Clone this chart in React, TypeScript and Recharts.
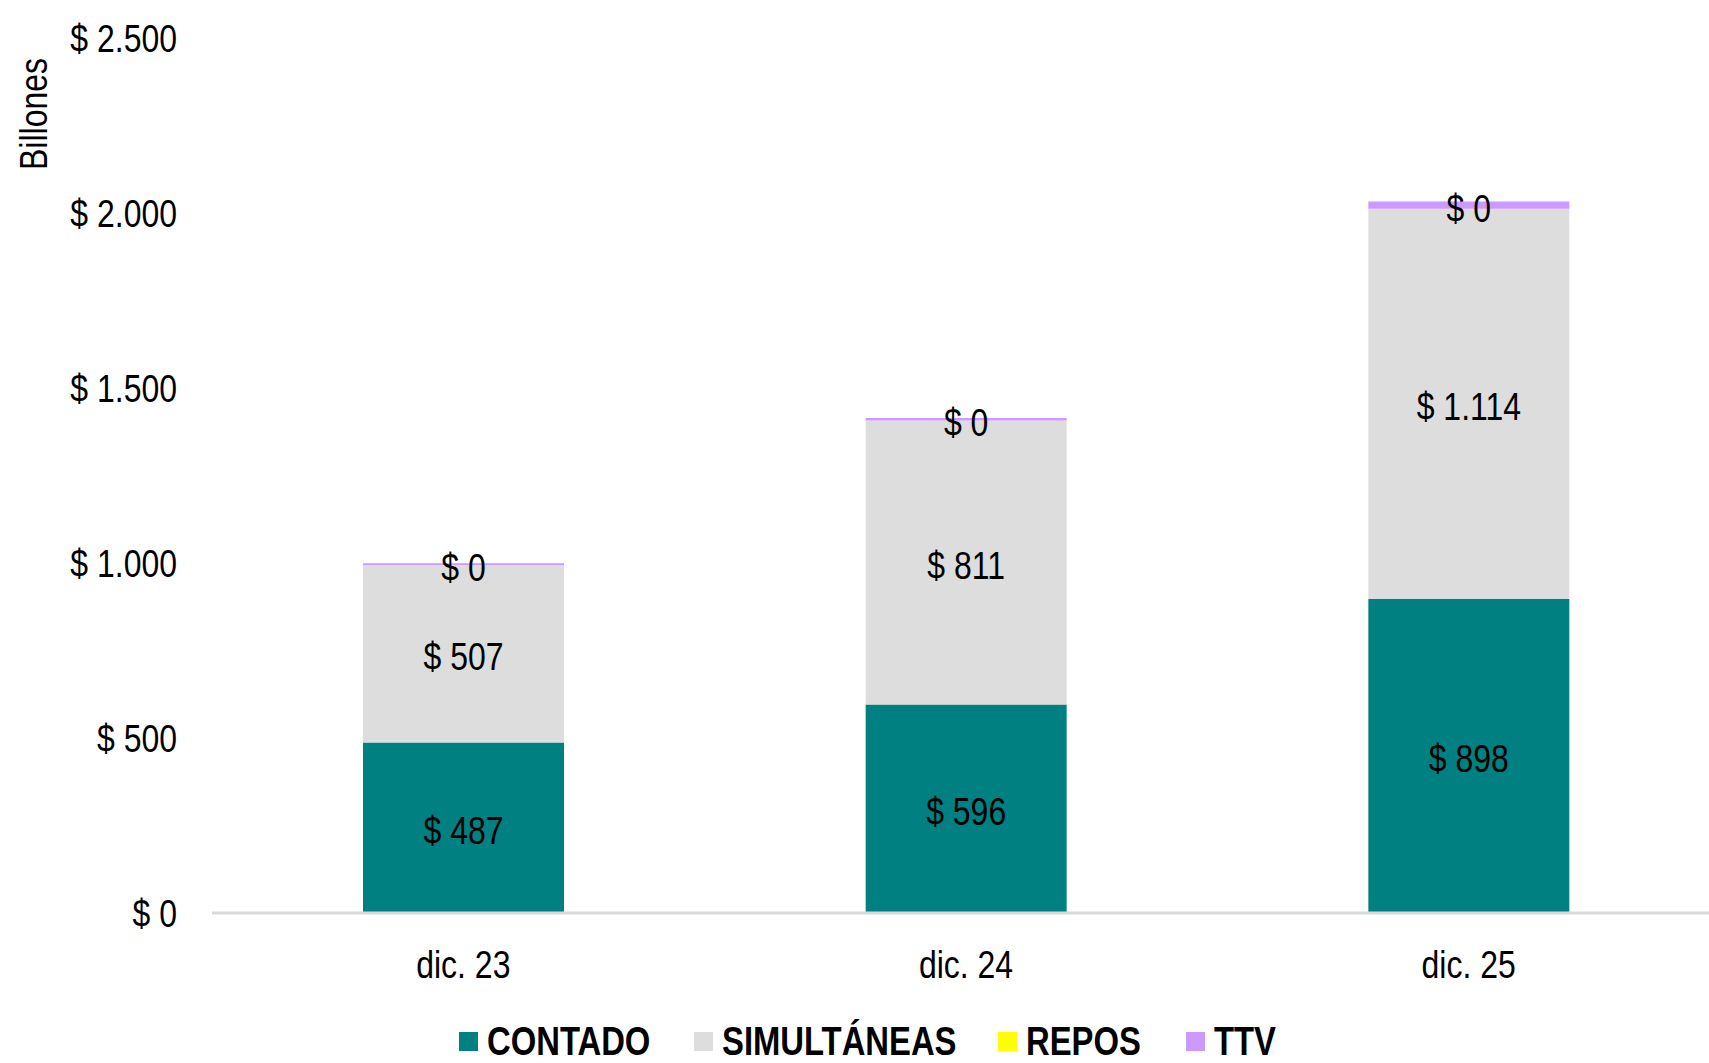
import { BarChart, Bar, XAxis, YAxis, LabelList, Label } from "recharts";

const categories = ["dic. 23", "dic. 24", "dic. 25"];
const contado = [487, 596, 898];
const simultaneas = [507, 811, 1114];
const repos = [0, 0, 0];
const ttv = [5, 7, 21];
const ttvLabels = [0, 0, 0];
const yTicks = [0, 500, 1000, 1500, 2000, 2500];

const legendItems = [
  { name: "CONTADO", color: "#008080" },
  { name: "SIMULTÁNEAS", color: "#DDDDDD" },
  { name: "REPOS", color: "#FFFF00" },
  { name: "TTV", color: "#CC99FF" },
];

// Arial Narrow is not installed, so Liberation Sans is squeezed horizontally
const FONT = "'Liberation Sans', Arial, sans-serif";
const SQUEEZE = 0.82;
const FS = 39;

const fmt = (v: number) => "$ " + String(v).replace(/\B(?=(\d{3})+(?!\d))/g, ".");

const data = categories.map((c, i) => ({
  name: c,
  contado: contado[i],
  simultaneas: simultaneas[i],
  repos: repos[i],
  ttv: ttv[i],
  ttvLabel: ttvLabels[i],
}));

function NarrowText({ x, y, anchor, dy, children }: any) {
  return (
    <text
      transform={`translate(${x},${y}) scale(${SQUEEZE},1)`}
      textAnchor={anchor}
      dy={dy}
      fontSize={FS}
      fontFamily={FONT}
      fill="#000"
    >
      {children}
    </text>
  );
}

const YTick = ({ x, y, payload }: any) => (
  <NarrowText x={x} y={y} anchor="end" dy="0.37em">
    {fmt(payload.value)}
  </NarrowText>
);

const XTick = ({ x, y, payload }: any) => (
  <NarrowText x={x} y={y} anchor="middle" dy="0.71em">
    {payload.value}
  </NarrowText>
);

const BarLabel = ({ x, y, width, height, value }: any) => (
  <NarrowText x={x + width / 2} y={y + height / 2} anchor="middle" dy="0.42em">
    {fmt(value)}
  </NarrowText>
);

const legendX = [459, 694, 998, 1186];

export default function App() {
  return (
    <div
      style={{
        position: "absolute",
        left: 0,
        top: 0,
        width: 1709,
        height: 1063,
        overflow: "hidden",
        background: "#fff",
        fontFamily: FONT,
      }}
    >
      <BarChart
        width={1720}
        height={1063}
        data={data}
        margin={{ top: 38, right: 0, left: 0, bottom: 90 }}
        barSize={201}
      >
        <XAxis
          dataKey="name"
          height={60}
          tickLine={false}
          tickSize={0}
          tickMargin={37}
          axisLine={{ stroke: "#D9D9D9", strokeWidth: 3 }}
          tick={<XTick />}
        />
        <YAxis
          width={212}
          domain={[0, 2500]}
          ticks={yTicks}
          axisLine={false}
          tickLine={false}
          tickSize={0}
          tickMargin={35}
          tick={<YTick />}
        >
          <Label
            content={() => (
              <text
                transform={`translate(33,114) rotate(-90) scale(${SQUEEZE},1)`}
                textAnchor="middle"
                dy="0.355em"
                fontSize={FS}
                fontFamily={FONT}
                fill="#000"
              >
                Billones
              </text>
            )}
          />
        </YAxis>
        <Bar dataKey="contado" stackId="a" fill="#008080" isAnimationActive={false}>
          <LabelList dataKey="contado" content={<BarLabel />} />
        </Bar>
        <Bar dataKey="simultaneas" stackId="a" fill="#DDDDDD" isAnimationActive={false}>
          <LabelList dataKey="simultaneas" content={<BarLabel />} />
        </Bar>
        <Bar dataKey="repos" stackId="a" fill="#FFFF00" isAnimationActive={false} />
        <Bar dataKey="ttv" stackId="a" fill="#CC99FF" isAnimationActive={false}>
          <LabelList dataKey="ttvLabel" content={<BarLabel />} />
        </Bar>
      </BarChart>
      {legendItems.map((it, i) => (
        <div
          key={it.name}
          style={{
            position: "absolute",
            left: legendX[i],
            top: 1024,
            height: 34,
            display: "flex",
            alignItems: "center",
          }}
        >
          <div style={{ width: 19, height: 19, background: it.color }} />
          <span
            style={{
              marginLeft: 9,
              fontWeight: "bold",
              fontSize: 40,
              lineHeight: "34px",
              color: "#000",
              transform: `scaleX(${SQUEEZE})`,
              transformOrigin: "left center",
              whiteSpace: "nowrap",
            }}
          >
            {it.name}
          </span>
        </div>
      ))}
    </div>
  );
}
